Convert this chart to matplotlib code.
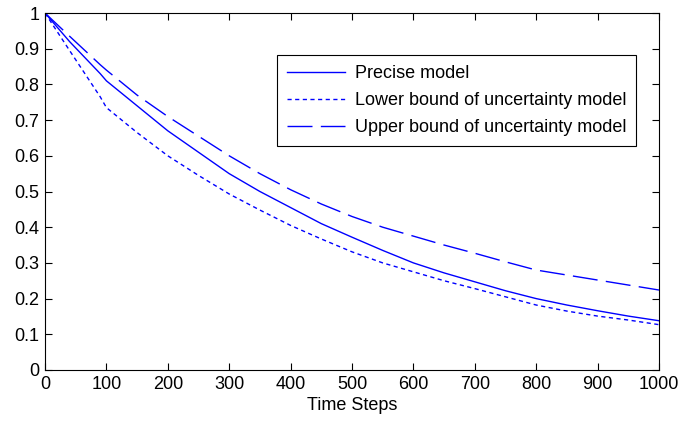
import matplotlib
matplotlib.use("Agg")
import matplotlib.pyplot as plt

plt.rcParams['font.family'] = ['Liberation Sans', 'DejaVu Sans']
plt.rcParams['font.size'] = 13

steps = [0, 40, 90, 100, 150, 200, 250, 300, 350, 400, 450, 500,
         550, 600, 650, 700, 750, 800, 850, 900, 950, 1000]
precise = [1.0, 0.92, 0.83, 0.81, 0.74, 0.67, 0.61, 0.55, 0.50, 0.455, 0.41, 0.372,
           0.335, 0.30, 0.272, 0.247, 0.222, 0.20, 0.182, 0.166, 0.151, 0.138]
lower = [1.0, 0.895, 0.765, 0.735, 0.665, 0.60, 0.545, 0.493, 0.448, 0.405, 0.367, 0.331,
         0.30, 0.275, 0.25, 0.228, 0.205, 0.182, 0.165, 0.151, 0.14, 0.127]
upper = [1.0, 0.935, 0.855, 0.84, 0.77, 0.71, 0.655, 0.60, 0.55, 0.505, 0.465, 0.43,
         0.40, 0.375, 0.35, 0.327, 0.303, 0.28, 0.266, 0.252, 0.238, 0.224]

fig = plt.figure(figsize=(6.97, 4.24), dpi=100)
ax = fig.add_axes([45/697, 1-370/424, 614/697, 357/424])

ax.plot(steps, precise, color="blue", lw=1, label="Precise model")
ax.plot(steps, lower, color="blue", lw=1, dashes=(3, 2.5), label="Lower bound of uncertainty model")
ax.plot(steps, upper, color="blue", lw=1, dashes=(18, 6), label="Upper bound of uncertainty model")

ax.set_xlim(0, 1000)
ax.set_ylim(0, 1)
ax.set_xticks(range(0, 1001, 100))
ax.set_yticks([i/10 for i in range(11)])
ax.set_yticklabels(["0", "0.1", "0.2", "0.3", "0.4", "0.5", "0.6", "0.7", "0.8", "0.9", "1"])
ax.tick_params(direction="in", length=5, width=0.8, top=True, right=True, pad=4)
for s in ax.spines.values():
    s.set_linewidth(0.8)
ax.set_xlabel("Time Steps", labelpad=3)

leg = ax.legend(loc="upper right", bbox_to_anchor=(0.963, 0.882), fancybox=False,
                edgecolor="black", framealpha=1, handlelength=3.2, handletextpad=0.55,
                labelspacing=0.55, borderaxespad=0, borderpad=0.55)
leg.get_frame().set_linewidth(0.8)

plt.savefig("out.png", dpi=100)
